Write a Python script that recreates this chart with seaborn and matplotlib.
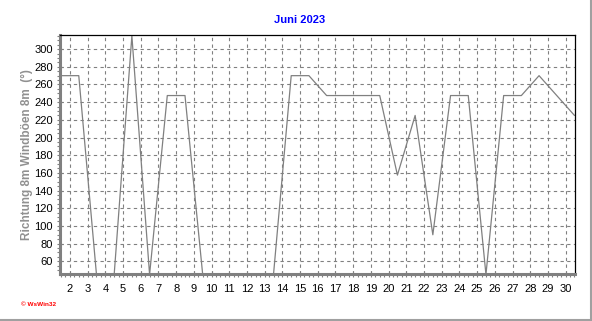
import matplotlib
matplotlib.use("Agg")
import matplotlib.pyplot as plt
from matplotlib.lines import Line2D
from matplotlib.ticker import MultipleLocator
import seaborn as sns
import pandas as pd

# Data: wind gust direction (degrees), daily values plotted at midday
days = [1.5, 2.5, 3.5, 4.5, 5.5, 6.5, 7.5, 8.5, 9.5, 10.5,
        11.5, 12.5, 13.5, 14.5, 15.5, 16.5, 17.5, 18.5, 19.5, 20.5,
        21.5, 22.5, 23.5, 24.5, 25.5, 26.5, 27.5, 28.5, 29.5, 30.5]
direction = [270, 270, 45, 45, 315, 45, 247.5, 247.5, 45, 45,
             45, 45, 45, 270, 270, 247.5, 247.5, 247.5, 247.5, 157.5,
             225, 90, 247.5, 247.5, 45, 247.5, 247.5, 270, 247.5, 225]
x_ticks = list(range(2, 31))
y_ticks = list(range(60, 301, 20))

df = pd.DataFrame({"day": days, "dir": direction})

sns.set_style("white")
plt.rcParams['font.family'] = ['Liberation Sans', 'DejaVu Sans']

fig = plt.figure(figsize=(5.92, 3.21), dpi=100)
ax = fig.add_axes([60/592, 47/321, 515/592, 239/321])

sns.lineplot(data=df, x="day", y="dir", ax=ax, color="#808080", linewidth=0.9)

ax.set_xlim(1.44, 30.53)
ax.set_ylim(45.6, 316)
ax.set_xticks(x_ticks)
ax.set_xticklabels([str(t) for t in x_ticks])
ax.set_yticks(y_ticks)
ax.xaxis.set_minor_locator(MultipleLocator(0.25))
ax.yaxis.set_minor_locator(MultipleLocator(5))

ax.grid(True, which="major", color="#808080", linestyle=(0, (3, 3)), linewidth=0.8)
ax.set_axisbelow(True)

for s in ["left", "bottom"]:
    ax.spines[s].set_color("#808080")
    ax.spines[s].set_linewidth(2.2)
for s in ["top", "right"]:
    ax.spines[s].set_color("black")
    ax.spines[s].set_linewidth(0.9)

ax.tick_params(axis="both", which="major", labelsize=8, colors="black",
               length=4, width=0.8, direction="inout")
ax.tick_params(axis="x", which="major", pad=5, color="#808080")
ax.tick_params(axis="y", which="major", pad=3, color="#808080")
ax.tick_params(axis="both", which="minor", length=2.5, width=0.8,
               direction="out", color="#808080")
ax.tick_params(left=True, bottom=True, which="both")

ax.set_xlabel("")
ax.set_ylabel("Richtung 8m Windböen 8m  (°)", fontsize=8.5, color="#909090",
              fontweight="bold", labelpad=1)

fig.text(300/592, 1 - 20/321, "Juni 2023", ha="center", va="center",
         color="#0000ff", fontsize=8, fontweight="bold")
fig.text(21/592, 1 - 304/321, "© WsWin32", ha="left", va="center",
         color="#ff0000", fontsize=4.6, fontweight="bold")

fig.add_artist(Line2D([0, 1], [1.5/321, 1.5/321], transform=fig.transFigure,
                      color="#a0a0a0", linewidth=1.5))
fig.add_artist(Line2D([1 - 1.5/592, 1 - 1.5/592], [0, 1], transform=fig.transFigure,
                      color="#a0a0a0", linewidth=1.5))

fig.savefig("out.png", dpi=100)
